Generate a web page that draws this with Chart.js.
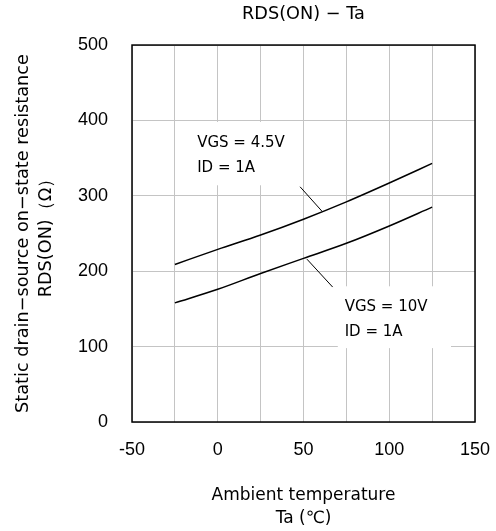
<!DOCTYPE html>
<html>
<head>
<meta charset="utf-8">
<script src="https://cdn.jsdelivr.net/npm/chart.js@4"></script>
<style>
  html, body { margin: 0; padding: 0; background: #fff; }
  #wrap { width: 496px; height: 531px; }
</style>
</head>
<body>
<div id="wrap"><canvas id="chart" width="496" height="531"></canvas></div>
<script>
// RDS(ON) vs ambient temperature

const temps = [-25, 0, 25, 50, 75, 100, 125];
const rdsVgs45 = [209, 229, 248, 269, 292, 317, 343];
const rdsVgs10 = [158, 176, 197, 217, 237, 260, 285];

const xTicks = [-50, 0, 50, 100, 150];
const yTicks = [0, 100, 200, 300, 400, 500];

// callout leader lines (data coords)
const leader45 = [{ x: 48, y: 312 }, { x: 61, y: 279 }];
const leader10 = [{ x: 52, y: 216 }, { x: 67, y: 179 }];

// callout labels: white box in data coords, text lines
const callouts = [
    { box: [-24, 49, 398, 314], lines: ['VGS = 4.5V', 'ID = 1A'], at: [-12, 370] },
    { box: [70, 136, 180, 98], lines: ['VGS = 10V', 'ID = 1A'], at: [74, 153] }
];

const labelFont = '"DejaVu Sans", sans-serif';
const tickFont = '"Liberation Sans", Arial, sans-serif';

const toPoints = (ys) => temps.map((t, i) => ({ x: t, y: ys[i] }));

const calloutPlugin = {
    id: 'callouts',
    beforeDatasetsDraw(chart) {
        const { ctx, scales: { x, y } } = chart;
        ctx.save();
        callouts.forEach(c => {
            const x0 = x.getPixelForValue(c.box[0]);
            const x1 = x.getPixelForValue(c.box[1]);
            const y0 = y.getPixelForValue(c.box[2]);
            const y1 = y.getPixelForValue(c.box[3]);
            ctx.fillStyle = '#fff';
            ctx.fillRect(x0, y0, x1 - x0, y1 - y0);
            ctx.fillStyle = '#000';
            ctx.font = '15px ' + labelFont;
            ctx.textBaseline = 'middle';
            ctx.textAlign = 'left';
            const tx = x.getPixelForValue(c.at[0]);
            const ty = y.getPixelForValue(c.at[1]);
            c.lines.forEach((l, i) => ctx.fillText(l, tx, ty + i * 25));
        });
        ctx.restore();
    },
    afterDatasetsDraw(chart) {
        // black frame round the plot
        const { ctx, chartArea: a } = chart;
        ctx.save();
        ctx.strokeStyle = '#000';
        ctx.lineWidth = 1.5;
        ctx.strokeRect(a.left, a.top, a.right - a.left, a.bottom - a.top);
        ctx.restore();
    }
};

const lineStyle = {
    borderColor: '#000',
    borderWidth: 1.5,
    pointRadius: 0,
    showLine: true,
    fill: false
};

new Chart(document.getElementById('chart'), {
    type: 'scatter',
    data: {
        datasets: [
            { label: 'VGS = 4.5V', data: toPoints(rdsVgs45), tension: 0.4, cubicInterpolationMode: 'monotone', ...lineStyle },
            { label: 'VGS = 10V', data: toPoints(rdsVgs10), tension: 0.4, cubicInterpolationMode: 'monotone', ...lineStyle },
            { label: 'leader 4.5V', data: leader45, ...lineStyle, borderWidth: 1 },
            { label: 'leader 10V', data: leader10, ...lineStyle, borderWidth: 1 }
        ]
    },
    options: {
        responsive: false,
        animation: false,
        layout: { padding: { left: 0, right: 21, top: 0, bottom: 0 } },
        plugins: {
            legend: { display: false },
            tooltip: { enabled: false },
            title: {
                display: true,
                text: 'RDS(ON) − Ta',
                fullSize: false,
                color: '#000',
                font: { family: labelFont, size: 17.7, weight: 'normal' },
                padding: { top: 4, bottom: 19.8 }
            }
        },
        scales: {
            x: {
                type: 'linear',
                min: -50,
                max: 150,
                afterFit: (s) => {
                    s.height = 109;
                    s.paddingLeft = 0;
                    s.paddingRight = 0;
                },
                afterBuildTicks: (s) => {
                    s.ticks = [];
                    for (let v = -50; v <= 150; v += 25) s.ticks.push({ value: v });
                },
                ticks: {
                    autoSkip: false,
                    maxRotation: 0,
                    padding: 17,
                    color: '#000',
                    font: { family: tickFont, size: 18 },
                    callback: (v) => xTicks.includes(v) ? String(v) : ''
                },
                grid: { color: '#c4c4c4', lineWidth: 1, drawTicks: false },
                border: { display: false },
                title: {
                    display: true,
                    text: ['Ambient temperature', 'Ta (℃)'],
                    color: '#000',
                    font: { family: labelFont, size: 17, lineHeight: 1.35 },
                    padding: { top: 0, bottom: 1 }
                }
            },
            y: {
                min: 0,
                max: 500,
                afterFit: (s) => { s.width = 132; },
                afterBuildTicks: (s) => { s.ticks = yTicks.map(v => ({ value: v })); },
                ticks: {
                    padding: 24,
                    color: '#000',
                    font: { family: tickFont, size: 18 }
                },
                grid: { color: '#c4c4c4', lineWidth: 1, drawTicks: false },
                border: { display: false },
                title: {
                    display: true,
                    text: ['Static drain−source on−state resistance', 'RDS(ON)（Ω）'],
                    color: '#000',
                    font: { family: labelFont, size: 17.7, lineHeight: 1.35 },
                    padding: { top: 11, bottom: 0 }
                }
            }
        }
    },
    plugins: [calloutPlugin]
});
</script>
</body>
</html>
